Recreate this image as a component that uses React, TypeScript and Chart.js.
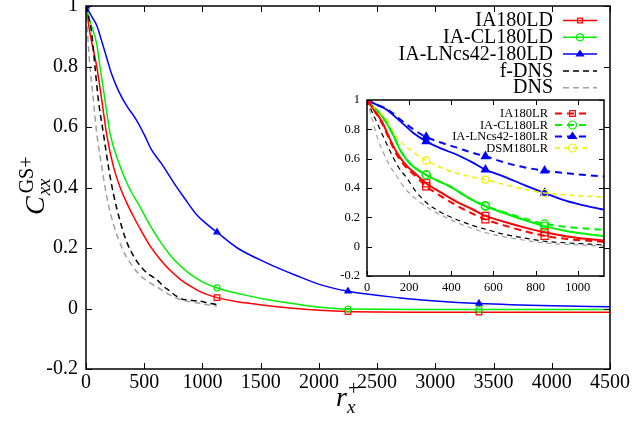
import React, { useEffect, useRef } from "react";
import { Chart, registerables } from "chart.js";
Chart.register(...registerables);

const FONT = "'Liberation Serif', 'Times New Roman', serif";

// ---------- main chart data (r_x^+ from 0 to 4500) ----------
const ldX = [0, 34, 92, 135, 180, 235, 292, 350, 400, 464, 550, 636, 720, 807, 900, 979, 1050, 1125, 1300, 1550, 1800, 2010, 2250, 2800, 3375, 4000, 4500];
const ldY = [1, 0.91, 0.8, 0.69, 0.57, 0.47, 0.402, 0.349, 0.31, 0.264, 0.207, 0.163, 0.127, 0.097, 0.073, 0.056, 0.045, 0.036, 0.022, 0.01, 0.0, -0.006, -0.01, -0.012, -0.012, -0.012, -0.012];

const clX = [0, 34, 92, 120, 163, 206, 278, 364, 464, 550, 636, 720, 807, 900, 1000, 1125, 1300, 1550, 1800, 2010, 2250, 2800, 3375, 4000, 4500];
const clY = [1, 0.95, 0.875, 0.8, 0.69, 0.58, 0.486, 0.404, 0.336, 0.275, 0.222, 0.178, 0.142, 0.112, 0.088, 0.068, 0.05, 0.03, 0.015, 0.004, -0.002, -0.003, -0.003, -0.003, -0.003];

const lnX = [0, 50, 94, 130, 173, 220, 281, 350, 427, 500, 562, 650, 750, 843, 950, 1050, 1125, 1300, 1550, 1800, 2010, 2250, 2700, 3000, 3375, 4000, 4500];
const lnY = [1, 0.965, 0.934, 0.89, 0.835, 0.775, 0.718, 0.67, 0.627, 0.575, 0.525, 0.478, 0.418, 0.366, 0.31, 0.275, 0.252, 0.2, 0.151, 0.11, 0.079, 0.057, 0.035, 0.025, 0.0165, 0.009, 0.006];

const fdnsX = [0, 25, 49, 77, 106, 149, 192, 235, 292, 340, 378, 430, 492, 550, 607, 660, 722, 780, 836, 900, 979, 1050, 1125];
const fdnsY = [1, 0.96, 0.91, 0.8, 0.69, 0.58, 0.47, 0.38, 0.29, 0.23, 0.195, 0.16, 0.129, 0.11, 0.096, 0.075, 0.057, 0.04, 0.03, 0.027, 0.024, 0.018, 0.013];

const dnsX = [0, 15, 34, 63, 92, 135, 178, 235, 321, 400, 464, 550, 636, 720, 807, 900, 979, 1050, 1125];
const dnsY = [1, 0.9, 0.8, 0.69, 0.58, 0.47, 0.37, 0.28, 0.19, 0.14, 0.11, 0.085, 0.065, 0.045, 0.03, 0.022, 0.017, 0.012, 0.008];

// ---------- inset data (0 to 1125) ----------
const inLdX = [0, 35, 70, 110, 140, 180, 235, 281, 350, 420, 500, 562, 650, 750, 843, 950, 1050, 1125];
const inLdY = [1, 0.93, 0.855, 0.73, 0.645, 0.565, 0.49, 0.432, 0.37, 0.31, 0.255, 0.21, 0.17, 0.13, 0.098, 0.07, 0.052, 0.042];

const inClX = [0, 40, 78, 125, 157, 205, 281, 350, 395, 480, 562, 650, 750, 843, 950, 1050, 1125];
const inClY = [1, 0.94, 0.877, 0.76, 0.66, 0.565, 0.49, 0.44, 0.41, 0.335, 0.275, 0.23, 0.18, 0.14, 0.105, 0.085, 0.072];

const inLnX = [0, 50, 94, 130, 173, 220, 281, 350, 427, 500, 562, 650, 750, 843, 950, 1050, 1125];
const inLnY = [1, 0.965, 0.934, 0.89, 0.835, 0.775, 0.718, 0.67, 0.627, 0.575, 0.525, 0.478, 0.418, 0.366, 0.31, 0.275, 0.252];

const lrX = [0, 35, 70, 110, 140, 180, 235, 281, 350, 420, 500, 562, 650, 750, 843, 950, 1050, 1125];
const lrY = [1, 0.925, 0.845, 0.72, 0.63, 0.55, 0.475, 0.412, 0.345, 0.285, 0.225, 0.186, 0.145, 0.105, 0.074, 0.052, 0.04, 0.032];

const clLrX = [0, 40, 78, 125, 157, 205, 281, 350, 395, 480, 562, 650, 750, 843, 950, 1050, 1125];
const clLrY = [1, 0.94, 0.875, 0.76, 0.66, 0.565, 0.49, 0.44, 0.41, 0.335, 0.28, 0.235, 0.19, 0.155, 0.135, 0.122, 0.116];

const lnLrX = [0, 50, 94, 130, 173, 220, 281, 350, 427, 500, 562, 650, 750, 843, 950, 1050, 1125];
const lnLrY = [1, 0.965, 0.94, 0.9, 0.85, 0.8, 0.748, 0.71, 0.675, 0.64, 0.616, 0.575, 0.54, 0.518, 0.5, 0.487, 0.479];

const dsmX = [0, 40, 94, 125, 157, 205, 281, 350, 427, 500, 562, 650, 750, 843, 950, 1050, 1125];
const dsmY = [1, 0.94, 0.866, 0.78, 0.72, 0.66, 0.588, 0.54, 0.5, 0.475, 0.457, 0.425, 0.39, 0.366, 0.352, 0.344, 0.339];

const inFdnsX = [0, 30, 62, 90, 118, 150, 189, 230, 284, 350, 427, 500, 570, 650, 750, 848, 950, 1050, 1125];
const inFdnsY = [1, 0.9, 0.8, 0.71, 0.627, 0.54, 0.468, 0.38, 0.298, 0.235, 0.184, 0.145, 0.116, 0.085, 0.058, 0.036, 0.026, 0.018, 0.012];

const inDnsX = [0, 15, 30, 50, 78, 105, 141, 185, 237, 300, 363, 450, 570, 700, 848, 1000, 1125];
const inDnsY = [1, 0.92, 0.843, 0.74, 0.64, 0.56, 0.48, 0.39, 0.32, 0.255, 0.207, 0.15, 0.093, 0.055, 0.025, 0.012, 0.004];

const mainMarkers = [0, 1125, 2250, 3375];
const insetMarkers = [0, 281, 562, 843];

const mainXTickStep = 500;
const yTickStep = 0.2;
const insetXTickStep = 200;

const RED = "#ff0000";
const GREEN = "#00f000";
const BLUE = "#0000ff";
const YELLOW = "#f0f000";
const BLACK = "#000000";
const GRAY = "#a0a0a0";

function pts(xs: number[], ys: number[]) {
  return xs.map((x, i) => ({ x, y: ys[i] }));
}

function fmtY(v: number) {
  const r = Math.round(v * 10) / 10;
  if (r === 0) return "0";
  if (r === 1) return "1";
  return r.toFixed(1);
}

function fmtX(v: number) {
  return String(Math.round(v));
}

type DsOpt = { dash?: number[]; style?: any; markers?: number[]; width?: number; radius?: number; fill?: boolean; legend?: boolean };

function ds(label: string, xs: number[], ys: number[], color: string, o: DsOpt) {
  const markers = o.markers || [];
  const style = o.style || false;
  const fillCol = o.fill ? color : "rgba(0,0,0,0)";
  return {
    label,
    data: pts(xs, ys),
    borderColor: color,
    backgroundColor: fillCol,
    borderWidth: o.width ?? 1.5,
    borderDash: o.dash || [],
    pointStyle: style,
    pointRadius: (c: any) => (style && c.raw && markers.includes(c.raw.x) ? o.radius ?? 3.5 : 0),
    pointBorderColor: color,
    pointBackgroundColor: fillCol,
    pointBorderWidth: 1.2,
    cubicInterpolationMode: "monotone",
    tension: 0,
    showLegend: o.legend !== false,
    legendStyle: style,
    legendFill: !!o.fill,
  } as any;
}

const framePlugin = {
  id: "frame",
  afterDraw(chart: any, _a: any, opts: any) {
    const { ctx, chartArea: a, scales } = chart;
    const x = scales.x, y = scales.y;
    const len = opts.len || 6;
    ctx.save();
    ctx.strokeStyle = "#000";
    ctx.lineWidth = opts.lw || 1;
    ctx.setLineDash([]);
    ctx.beginPath();
    x.ticks.forEach((t: any) => {
      const px = Math.round(x.getPixelForValue(t.value)) + 0.5;
      ctx.moveTo(px, a.bottom);
      ctx.lineTo(px, a.bottom - len);
      ctx.moveTo(px, a.top);
      ctx.lineTo(px, a.top + len);
    });
    y.ticks.forEach((t: any) => {
      const py = Math.round(y.getPixelForValue(t.value)) + 0.5;
      ctx.moveTo(a.left, py);
      ctx.lineTo(a.left + len, py);
      ctx.moveTo(a.right, py);
      ctx.lineTo(a.right - len, py);
    });
    ctx.stroke();
    ctx.lineWidth = opts.bw || 1.5;
    ctx.strokeRect(a.left, a.top, a.right - a.left, a.bottom - a.top);
    ctx.restore();
  },
};

function drawMarker(ctx: CanvasRenderingContext2D, style: string, cx: number, cy: number, r: number, color: string, fill: boolean) {
  ctx.save();
  ctx.setLineDash([]);
  ctx.strokeStyle = color;
  ctx.fillStyle = color;
  ctx.lineWidth = 1.2;
  ctx.beginPath();
  if (style === "rect") {
    const s = r * Math.SQRT1_2;
    ctx.rect(cx - s, cy - s, 2 * s, 2 * s);
  } else if (style === "circle") {
    ctx.arc(cx, cy, r, 0, Math.PI * 2);
  } else if (style === "triangle") {
    const h = r * 1.5;
    ctx.moveTo(cx, cy - r);
    ctx.lineTo(cx + h * 0.577 * 1.15, cy + r * 0.5);
    ctx.lineTo(cx - h * 0.577 * 1.15, cy + r * 0.5);
    ctx.closePath();
  }
  if (fill) ctx.fill();
  ctx.stroke();
  ctx.restore();
}

function drawLegend(chart: any, items: any[], opts: any) {
  const { ctx, chartArea: a } = chart;
  ctx.save();
  ctx.font = `${opts.size}px ${FONT}`;
  ctx.textAlign = "right";
  ctx.textBaseline = "middle";
  items.forEach((d: any, i: number) => {
    const yy = a.top + opts.top + i * opts.step;
    ctx.fillStyle = "#000";
    ctx.fillText(d.label, a.right - opts.textRight, yy + 1);
    const x1 = a.right - opts.lineRight1;
    const x2 = a.right - opts.lineRight2;
    ctx.strokeStyle = d.borderColor;
    ctx.lineWidth = d.borderWidth;
    ctx.setLineDash(d.borderDash || []);
    ctx.beginPath();
    ctx.moveTo(x1, yy + 0.5);
    ctx.lineTo(x2, yy + 0.5);
    ctx.stroke();
    if (d.legendStyle) drawMarker(ctx, d.legendStyle, (x1 + x2) / 2, yy + 0.5, opts.r, d.borderColor, d.legendFill);
  });
  ctx.restore();
}

const mainLegendPlugin = {
  id: "mainLegend",
  afterDraw(chart: any) {
    const items = chart.data.datasets.filter((d: any) => d.showLegend).slice().reverse();
    drawLegend(chart, items, chart.options.plugins.customLegend);
  },
};

const insetLegendPlugin = {
  id: "insetLegend",
  afterDraw(chart: any) {
    const items = chart.data.datasets.filter((d: any) => d.showLegend);
    drawLegend(chart, items, chart.options.plugins.customLegend);
  },
};

const titlePlugin = {
  id: "titles",
  afterDraw(chart: any) {
    const { ctx } = chart;
    ctx.save();
    ctx.fillStyle = "#000";
    ctx.textBaseline = "alphabetic";
    ctx.textAlign = "left";
    // y title: C_xx^{GS+}, rotated
    ctx.save();
    ctx.translate(44, 215);
    ctx.rotate(-Math.PI / 2);
    ctx.font = `italic 28px ${FONT}`;
    ctx.fillText("C", 0, 0);
    const cw = ctx.measureText("C").width;
    ctx.font = `italic 19px ${FONT}`;
    ctx.fillText("xx", cw + 1, 6);
    ctx.font = `20px ${FONT}`;
    ctx.fillText("GS+", cw + 3, -11);
    ctx.restore();
    // x title: r_x^+
    ctx.font = `italic 28px ${FONT}`;
    ctx.fillText("r", 336, 406);
    const rw = ctx.measureText("r").width;
    ctx.font = `italic 19px ${FONT}`;
    ctx.fillText("x", 336 + rw, 413);
    ctx.font = `20px ${FONT}`;
    ctx.fillText("+", 336 + rw + 1, 395);
    ctx.restore();
  },
};

export default function App() {
  const mainRef = useRef<HTMLCanvasElement>(null);
  const insetRef = useRef<HTMLCanvasElement>(null);

  useEffect(() => {
    const mainDatasets = [
      ds("IA180LD", ldX, ldY, RED, { style: "rect", markers: mainMarkers, radius: 4 }),
      ds("IA-CL180LD", clX, clY, GREEN, { style: "circle", markers: mainMarkers, radius: 3 }),
      ds("IA-LNcs42-180LD", lnX, lnY, BLUE, { style: "triangle", markers: mainMarkers, radius: 3.5, fill: true }),
      ds("f-DNS", fdnsX, fdnsY, BLACK, { dash: [6, 4] }),
      ds("DNS", dnsX, dnsY, GRAY, { dash: [6, 4] }),
    ];
    const main = new Chart(mainRef.current as HTMLCanvasElement, {
      type: "line",
      data: { datasets: mainDatasets.slice().reverse() } as any,
      options: {
        animation: false,
        responsive: false,
        maintainAspectRatio: false,
        layout: { padding: { left: 0, top: 6, right: 22, bottom: 0 } },
        plugins: {
          legend: { display: false },
          tooltip: { enabled: false },
          frame: { len: 6, lw: 1, bw: 1.5 },
          customLegend: { size: 20, top: 14, step: 16.8, textRight: 57, lineRight1: 47, lineRight2: 13, r: 3.5 },
        } as any,
        scales: {
          x: {
            type: "linear",
            min: 0,
            max: 4500,
            grid: { display: false, drawTicks: false },
            border: { display: false },
            ticks: { stepSize: mainXTickStep, includeBounds: false, autoSkip: false, maxRotation: 0, padding: 2, color: "#000", font: { family: FONT, size: 20 }, callback: (v: any) => fmtX(Number(v)) },
            afterFit: (s: any) => { s.height = 52; s.paddingLeft = 0; s.paddingRight = 0; },
          },
          y: {
            type: "linear",
            min: -0.2,
            max: 1,
            grid: { display: false, drawTicks: false },
            border: { display: false },
            ticks: { stepSize: yTickStep, includeBounds: false, autoSkip: false, padding: 8, color: "#000", font: { family: FONT, size: 20 }, callback: (v: any) => fmtY(Number(v)) },
            afterFit: (s: any) => { s.width = 86; s.paddingTop = 0; s.paddingBottom = 0; },
          },
        },
      } as any,
      plugins: [framePlugin, titlePlugin, mainLegendPlugin] as any,
    });

    const insetDatasets = [
      ds("IA180LR", lrX, lrY, RED, { dash: [7, 5], style: "rect", markers: insetMarkers, radius: 5, width: 2 }),
      ds("IA-CL180LR", clLrX, clLrY, GREEN, { dash: [7, 5], style: "circle", markers: insetMarkers, radius: 4, width: 2 }),
      ds("IA-LNcs42-180LR", lnLrX, lnLrY, BLUE, { dash: [7, 5], style: "triangle", markers: insetMarkers, radius: 4.5, fill: true, width: 2 }),
      ds("DSM180LR", dsmX, dsmY, YELLOW, { dash: [5, 4], style: "circle", markers: insetMarkers, radius: 3.5, width: 1.5 }),
      ds("IA180LD", inLdX, inLdY, RED, { style: "rect", markers: insetMarkers, radius: 5, width: 2, legend: false }),
      ds("IA-CL180LD", inClX, inClY, GREEN, { style: "circle", markers: insetMarkers, radius: 4, width: 2, legend: false }),
      ds("IA-LNcs42-180LD", inLnX, inLnY, BLUE, { style: "triangle", markers: insetMarkers, radius: 4.5, fill: true, width: 1.8, legend: false }),
      ds("f-DNS", inFdnsX, inFdnsY, BLACK, { dash: [5, 4], width: 1.2, legend: false }),
      ds("DNS", inDnsX, inDnsY, GRAY, { dash: [5, 4], width: 1.2, legend: false }),
    ];
    const inset = new Chart(insetRef.current as HTMLCanvasElement, {
      type: "line",
      data: { datasets: insetDatasets } as any,
      options: {
        animation: false,
        responsive: false,
        maintainAspectRatio: false,
        layout: { padding: { left: 0, top: 10, right: 16, bottom: 0 } },
        plugins: {
          legend: { display: false },
          tooltip: { enabled: false },
          frame: { len: 5, lw: 1, bw: 1.5 },
          customLegend: { size: 12.5, top: 13, step: 11.5, textRight: 56, lineRight1: 49, lineRight2: 14, r: 4 },
        } as any,
        scales: {
          x: {
            type: "linear",
            min: 0,
            max: 1125,
            grid: { display: false, drawTicks: false },
            border: { display: false },
            ticks: { stepSize: insetXTickStep, includeBounds: false, autoSkip: false, maxRotation: 0, padding: 4, color: "#000", font: { family: FONT, size: 12.5 }, callback: (v: any) => fmtX(Number(v)) },
            afterFit: (s: any) => { s.height = 29; s.paddingLeft = 0; s.paddingRight = 0; },
          },
          y: {
            type: "linear",
            min: -0.2,
            max: 1,
            grid: { display: false, drawTicks: false },
            border: { display: false },
            ticks: { stepSize: yTickStep, includeBounds: false, autoSkip: false, padding: 7, color: "#000", font: { family: FONT, size: 12.5 }, callback: (v: any) => fmtY(Number(v)) },
            afterFit: (s: any) => { s.width = 47; s.paddingTop = 0; s.paddingBottom = 0; },
          },
        },
      } as any,
      plugins: [framePlugin, insetLegendPlugin] as any,
    });

    return () => {
      main.destroy();
      inset.destroy();
    };
  }, []);

  return (
    <div style={{ position: "absolute", left: 0, top: 0, width: 632, height: 421, background: "#fff" }}>
      <canvas ref={mainRef} width={632} height={421} style={{ position: "absolute", left: 0, top: 0, width: 632, height: 421 }} />
      <canvas ref={insetRef} width={300} height={215} style={{ position: "absolute", left: 320, top: 90, width: 300, height: 215 }} />
    </div>
  );
}
